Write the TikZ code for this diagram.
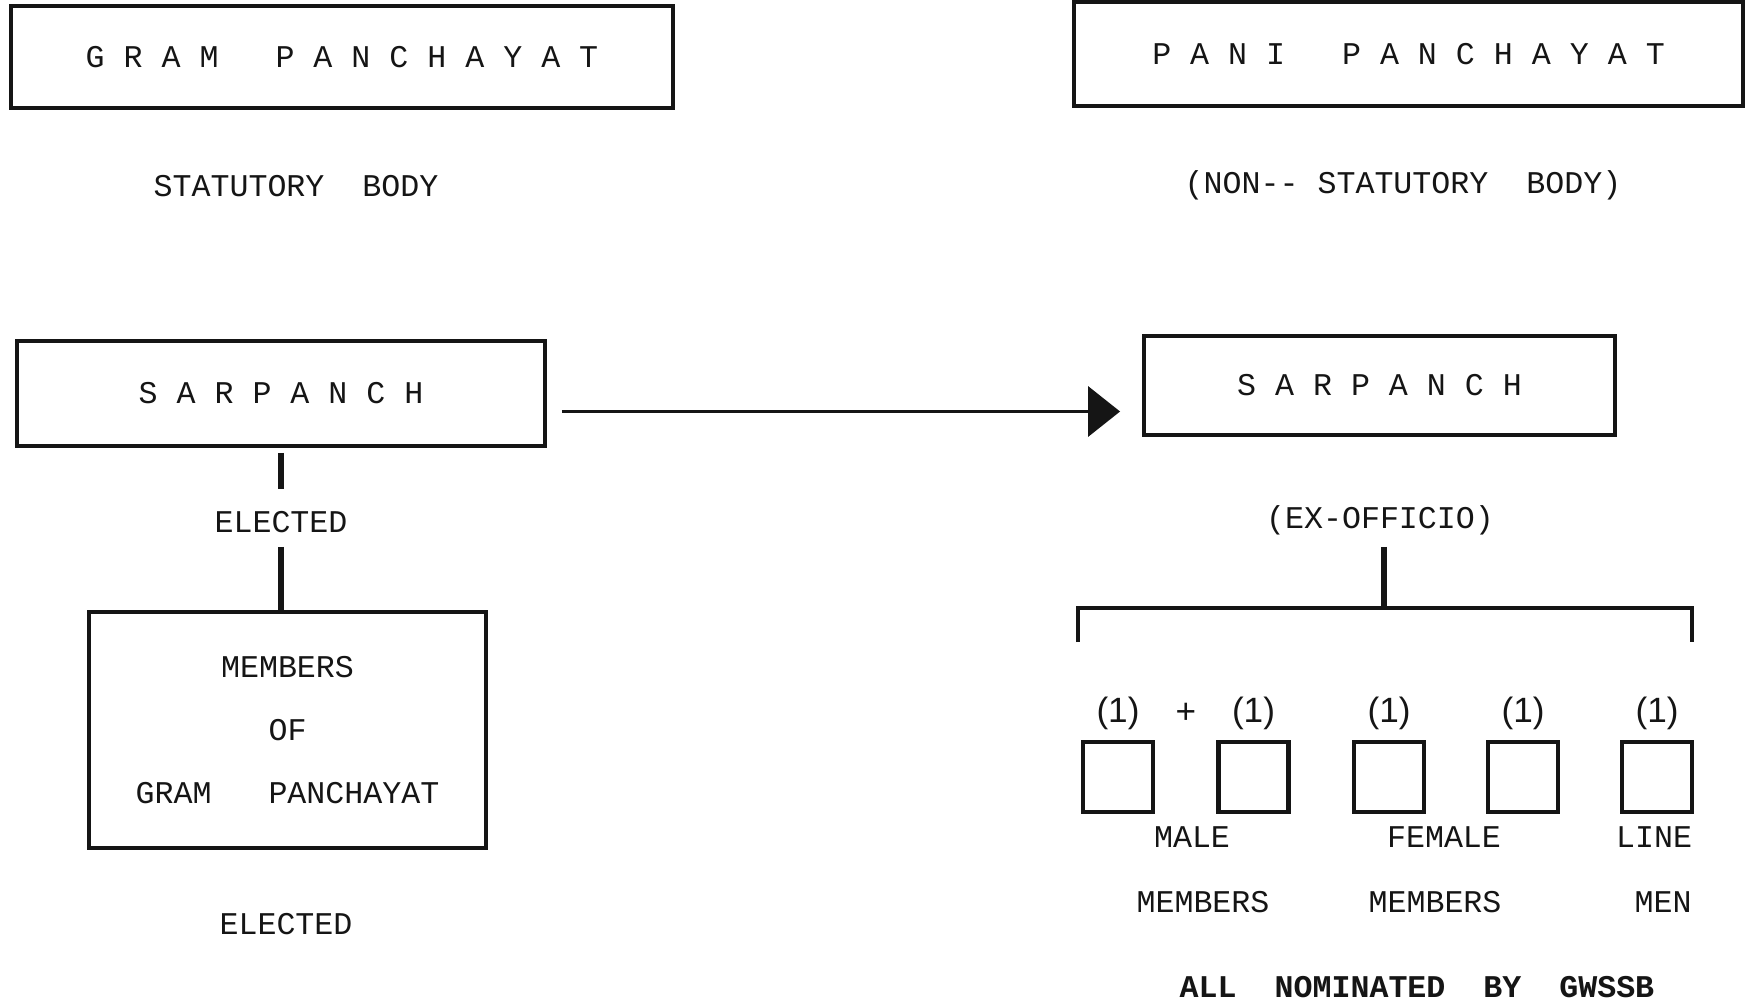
\documentclass[tikz,border=0pt]{standalone}
\usepackage{fontspec}
\setmainfont{Liberation Mono}
\setsansfont{Liberation Sans}
\usetikzlibrary{positioning, arrows.meta, calc}
\definecolor{clrink}{HTML}{151515}
\definecolor{clrpaper}{HTML}{FFFFFF}

\begin{document}
\begin{tikzpicture}[
    every node/.style={font=\rmfamily\fontsize{9}{11}\selectfont, text=clrink},
    box/.style={draw=clrink, line width=1.1pt, inner sep=0pt},
    seat/.style={draw=clrink, line width=1.3pt, minimum width=0.70cm,
                 minimum height=0.70cm, inner sep=0pt},
    link/.style={draw=clrink, line width=1.6pt},
    flow/.style={-{Triangle[length=0.32cm, width=0.5cm]}, draw=clrink, line width=1.0pt},
    caption/.style={font=\rmfamily\fontsize{9}{11}\selectfont, text=clrink, inner sep=1pt},
    count/.style={font=\sffamily\fontsize{10}{12}\selectfont, text=clrink, inner sep=1pt},
]
\useasboundingbox[fill=clrpaper] (0,0) rectangle (17.5,-10.07);
% statutory side
\node[box, minimum width=6.62cm, minimum height=1.02cm] (n_1) at (3.42,-0.57) {G R A M~~~P A N C H A Y A T};
\node[caption] (n_1_sub) at (2.96,-1.86) {STATUTORY~~BODY};
\node[box, minimum width=5.28cm, minimum height=1.05cm] (n_3) at (2.81,-3.935) {S A R P A N C H};
\node[caption] (n_5) at (2.81,-5.22) {ELECTED};
\node[box, minimum width=3.97cm, minimum height=2.36cm, align=center,
      font=\rmfamily\fontsize{9}{17.9}\selectfont] (n_6) at (2.875,-7.30) {MEMBERS\\OF\\GRAM~~~PANCHAYAT};
\node[caption] (n_7) at (2.86,-9.24) {ELECTED};
% non-statutory side
\node[box, minimum width=6.69cm, minimum height=1.04cm] (n_2) at (14.085,-0.54) {P A N I~~~P A N C H A Y A T};
\node[caption] (n_2_sub) at (14.03,-1.85) {(NON-{}- STATUTORY~~BODY)};
\node[box, minimum width=4.71cm, minimum height=0.99cm] (n_4) at (13.795,-3.855) {S A R P A N C H};
\node[caption] (n_8) at (13.80,-5.20) {(EX-OFFICIO)};
\coordinate (n_fork) at (13.84,-6.08);
\foreach \i/\x in {1/11.18, 2/12.535, 3/13.89, 4/15.23, 5/16.57} {
  \node[seat] (s_\i) at (\x,-7.77) {};
  \node[count, above=0.06cm of s_\i] (c_\i) {(1)};
}
\node[count] (n_plus) at ($(c_1)!0.5!(c_2)$) {+};
\node[caption] (n_9) at (11.92,-8.37) {MALE};
\node[caption] (n_10) at (12.03,-9.02) {MEMBERS};
\node[caption] (n_11) at (14.44,-8.37) {FEMALE};
\node[caption] (n_12) at (14.35,-9.02) {MEMBERS};
\node[caption] (n_13) at (16.54,-8.37) {LINE};
\node[caption] (n_14) at (16.63,-9.02) {MEN};
\node[caption, font=\rmfamily\bfseries\fontsize{9}{11}\selectfont] (n_15) at (14.17,-9.87) {ALL~~NOMINATED~~BY~~GWSSB};
% connectors
\draw[flow] ([xshift=0.15cm, yshift=-0.18cm]n_3.east) -- ([xshift=-0.22cm, yshift=-0.26cm]n_4.west);
\draw[link, shorten <=0.05cm, shorten >=0.18cm] (n_3.south) -- (n_5.north);
\draw[link, shorten <=0.1cm] (n_5.south) -- (n_5.south |- n_6.north);
\draw[link, shorten <=0.08cm] (n_fork |- n_8.south) -- (n_fork);
\draw[draw=clrink, line width=1.2pt] ([xshift=-3.06cm, yshift=-0.34cm]n_fork) -- ++(0,0.34) -- ++(6.14,0) -- ++(0,-0.34);
\end{tikzpicture}
\end{document}
